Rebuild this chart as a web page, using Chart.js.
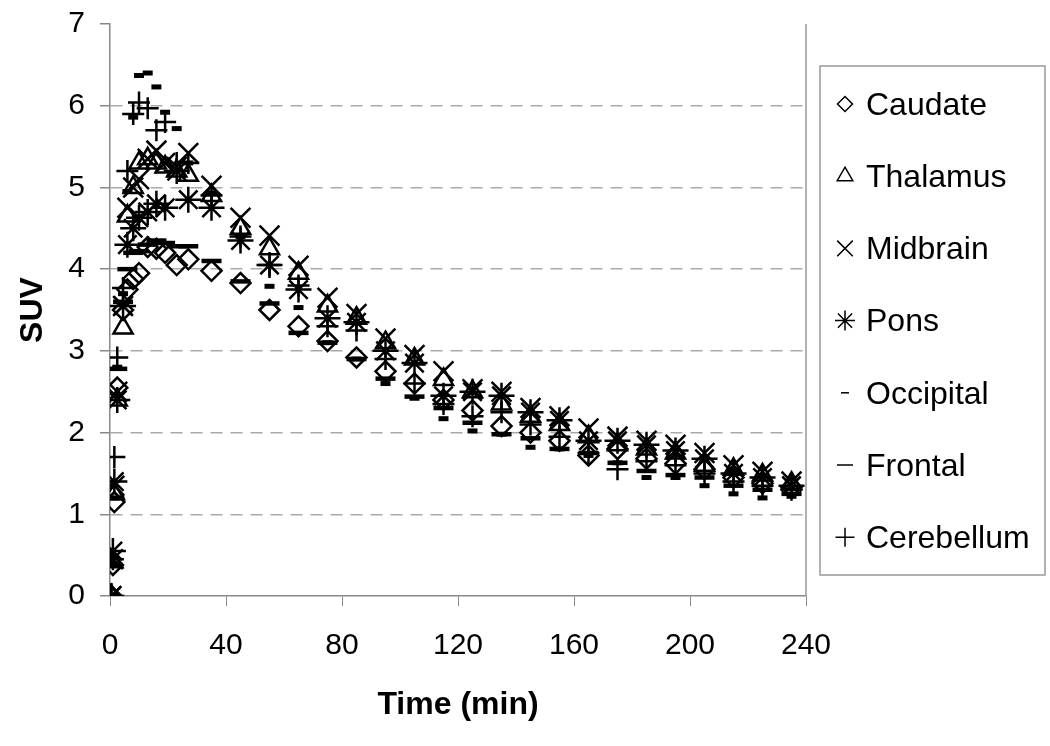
<!DOCTYPE html>
<html>
<head>
<meta charset="utf-8">
<script src="https://cdn.jsdelivr.net/npm/chart.js@4/dist/chart.umd.min.js"></script>
<style>html,body{margin:0;padding:0;background:#fff;}</style>
</head>
<body>
<canvas id="myChart" width="1050" height="746"></canvas>
<script>
const ctx = document.getElementById('myChart');

// sample times (min)
const times = [0.5, 1, 1.5, 2.5, 4.5, 6, 8, 10, 13, 16, 19, 23, 27,
    35, 45, 55, 65, 75, 85, 95, 105, 115, 125, 135, 145, 155, 165, 175, 185, 195, 205, 215, 225, 235];

const caudate = [0, 0.38, 1.15, 2.55, 3.5, 3.75, 3.88, 3.95, 4.27, 4.25, 4.2, 4.05, 4.12,
    3.98, 3.83, 3.5, 3.3, 3.12, 2.92, 2.75, 2.6, 2.4, 2.27, 2.08, 2.0, 1.9, 1.72, 1.8, 1.68, 1.62, 1.55, 1.45, 1.38, 1.33];
const thalamus = [0, 0.42, 1.25, 2.4, 3.28, 4.65, 5.0, 5.3, 5.35, 5.3, 5.25, 5.2, 5.15,
    4.9, 4.5, 4.25, 3.95, 3.55, 3.4, 3.1, 2.9, 2.65, 2.5, 2.35, 2.2, 2.1, 1.95, 1.85, 1.8, 1.75, 1.6, 1.55, 1.48, 1.38];
const midbrain = [0, 0.45, 1.35, 2.5, 3.55, 4.75, 5.0, 5.1, 5.35, 5.45, 5.3, 5.25, 5.42,
    5.02, 4.63, 4.41, 4.04, 3.65, 3.45, 3.15, 2.95, 2.75, 2.53, 2.5, 2.3, 2.2, 2.05, 1.95, 1.9, 1.85, 1.75, 1.6, 1.52, 1.4];
const pons = [0, 0.55, 1.4, 2.4, 3.55, 4.3, 4.5, 4.63, 4.7, 4.8, 4.75, 5.2, 4.85,
    4.75, 4.35, 4.05, 3.75, 3.4, 3.35, 3.0, 2.85, 2.45, 2.5, 2.45, 2.25, 2.15, 1.9, 1.9, 1.85, 1.78, 1.68, 1.5, 1.45, 1.35];
const occipital = [0, 0.4, 1.2, 2.8, 3.7, 4.95, 5.86, 6.37, 6.4, 6.23, 5.92, 5.72, 5.3,
    4.93, 4.4, 3.79, 3.53, 3.1, 2.9, 2.6, 2.42, 2.17, 2.02, 1.98, 1.82, 1.8, 1.72, 1.63, 1.45, 1.45, 1.35, 1.25, 1.2, 1.22];
const frontal = [0, 0.38, 1.2, 2.78, 3.6, 4.0, 4.2, 4.22, 4.3, 4.35, 4.32, 4.28, 4.28,
    4.1, 3.85, 3.58, 3.22, 3.1, 2.9, 2.66, 2.44, 2.3, 2.12, 1.98, 1.93, 1.8, 1.75, 1.63, 1.53, 1.48, 1.45, 1.35, 1.3, 1.25];
const cerebellum = [0, 0.45, 1.7, 2.92, 3.77, 5.2, 5.9, 6.04, 5.97, 5.7, 5.8, 5.3, 5.3,
    4.9, 4.4, 4.05, 3.8, 3.3, 3.25, 2.9, 2.6, 2.35, 2.2, 2.25, 2.1, 1.95, 1.75, 1.55, 1.65, 1.6, 1.5, 1.4, 1.35, 1.3];

const seriesNames = ['Caudate', 'Thalamus', 'Midbrain', 'Pons', 'Occipital', 'Frontal', 'Cerebellum'];
const seriesValues = [caudate, thalamus, midbrain, pons, occipital, frontal, cerebellum];
const yTicks = [0, 1, 2, 3, 4, 5, 6, 7];
const xTicks = [0, 40, 80, 120, 160, 200, 240];

// marker looks: [style, radius, lineWidth, legend radius, legend lineWidth]
const markers = [
    ['rectRot', 10, 2.5, 7.5, 2],
    ['triangle', 11, 2.5, 9, 2],
    ['crossRot', 14, 2.5, 11, 2],
    ['star', 13, 2.5, 10, 2],
    ['line', 5, 5, 4, 5],
    ['line', 10, 4.5, 8, 4.5],
    ['cross', 11, 2.5, 9.5, 2]
];

const FONT = "'Liberation Sans', Arial, sans-serif";

const datasets = seriesNames.map((name, k) => ({
    label: name,
    data: times.map((t, i) => ({x: t, y: seriesValues[k][i]})),
    pointStyle: markers[k][0],
    pointRadius: markers[k][1],
    pointBorderWidth: markers[k][2],
    pointBorderColor: '#000',
    pointBackgroundColor: 'rgba(0,0,0,0)',
    showLine: false
}));

const boxLegend = {
    id: 'boxLegend',
    afterDraw(chart) {
        const c = chart.ctx;
        const a = chart.chartArea;
        c.save();
        // right edge of plot
        c.strokeStyle = '#999';
        c.lineWidth = 1.5;
        c.beginPath();
        c.moveTo(a.right, a.top);
        c.lineTo(a.right, a.bottom);
        c.stroke();
        // legend frame
        c.strokeRect(820, 66, 225, 509);
        c.font = '32px ' + FONT;
        c.textBaseline = 'middle';
        seriesNames.forEach((name, k) => {
            const y = 104 + k * 72.2;
            c.strokeStyle = '#000';
            c.fillStyle = 'rgba(0,0,0,0)';
            Chart.helpers.drawPoint(c, {
                pointStyle: markers[k][0],
                radius: markers[k][3],
                borderWidth: markers[k][4],
                rotation: 0
            }, 845, y);
            c.fillStyle = '#000';
            c.fillText(name, 866, y + 2);
        });
        c.restore();
    }
};

const myChart = new Chart(ctx, {
    type: 'scatter',
    data: {datasets: datasets},
    plugins: [boxLegend],
    options: {
        responsive: false,
        animation: false,
        layout: {padding: {top: 24, right: 244, left: 0, bottom: 0}},
        plugins: {legend: {display: false}, tooltip: {enabled: false}},
        scales: {
            x: {
                type: 'linear',
                min: 0, max: 240,
                afterBuildTicks: (s) => { s.ticks = xTicks.map(v => ({value: v})); },
                afterFit: (s) => { s.height = 150; },
                grid: {drawOnChartArea: false, tickLength: 10, tickColor: '#888'},
                border: {color: '#888', width: 1.5},
                ticks: {color: '#000', font: {family: FONT, size: 30}, padding: 22, maxRotation: 0},
                title: {display: true, text: 'Time (min)', color: '#000',
                    font: {family: FONT, size: 32, weight: 'bold'}, padding: {top: 0, bottom: 22}}
            },
            y: {
                min: 0, max: 7,
                afterBuildTicks: (s) => { s.ticks = yTicks.map(v => ({value: v})); },
                afterFit: (s) => { s.width = 110; },
                grid: {
                    color: (c) => (c.tick && c.tick.value > 0 && c.tick.value < 7) ? '#aaa' : 'rgba(0,0,0,0)',
                    lineWidth: 1.5,
                    tickLength: 10,
                    tickColor: '#888',
                    tickBorderDash: []
                },
                border: {color: '#888', width: 1.5, dash: [12, 8]},
                ticks: {color: '#000', font: {family: FONT, size: 30, lineHeight: 0.5}, padding: 15},
                title: {display: true, text: 'SUV', color: '#000',
                    font: {family: FONT, size: 32, weight: 'bold'}, padding: {top: 14, bottom: 0}}
            }
        }
    }
});
</script>
</body>
</html>
